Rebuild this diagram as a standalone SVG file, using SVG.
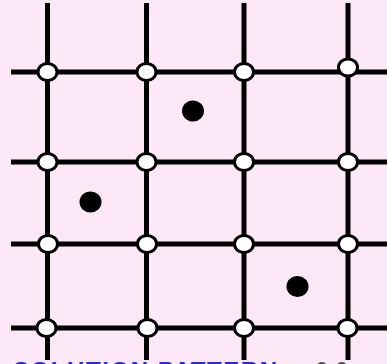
<svg xmlns="http://www.w3.org/2000/svg" width="387" height="364" viewBox="0 0 387 364">
<style>
.ln{stroke:#000;stroke-width:5;fill:none}
.nd{fill:#fff;stroke:#000;stroke-width:3}
.dt{fill:#000}
.cap{font-family:"Liberation Sans",Arial,sans-serif;font-weight:bold;font-size:24px}
</style>
<rect x="0" y="0" width="387" height="364" fill="#fde8f8"/>
<g id="connectors">
<line class="ln" x1="47.5" y1="3" x2="47.5" y2="360"/>
<line class="ln" x1="146.5" y1="3" x2="146.5" y2="360"/>
<line class="ln" x1="244" y1="3" x2="244" y2="360"/>
<line class="ln" x1="348" y1="3" x2="348" y2="360"/>
<line class="ln" x1="11" y1="72" x2="390" y2="72"/>
<line class="ln" x1="11" y1="162" x2="390" y2="162"/>
<line class="ln" x1="11" y1="244" x2="390" y2="244"/>
<line class="ln" x1="11" y1="328" x2="390" y2="328"/>
</g>
<g id="n11"><ellipse class="nd" cx="47.5" cy="72" rx="9.5" ry="8.5"/></g>
<g id="n12"><ellipse class="nd" cx="146.5" cy="72" rx="9.5" ry="8.5"/></g>
<g id="n13"><ellipse class="nd" cx="244" cy="72" rx="9.5" ry="8.5"/></g>
<g id="n14"><ellipse class="nd" cx="348" cy="67.5" rx="9.5" ry="8.5"/></g>
<g id="n21"><ellipse class="nd" cx="47.5" cy="162" rx="9.5" ry="8.5"/></g>
<g id="n22"><ellipse class="nd" cx="146.5" cy="162" rx="9.5" ry="8.5"/></g>
<g id="n23"><ellipse class="nd" cx="244" cy="162" rx="9.5" ry="8.5"/></g>
<g id="n24"><ellipse class="nd" cx="348" cy="162" rx="9.5" ry="8.5"/></g>
<g id="n31"><ellipse class="nd" cx="48" cy="244" rx="9.5" ry="8.5"/></g>
<g id="n32"><ellipse class="nd" cx="147" cy="244" rx="9.5" ry="8.5"/></g>
<g id="n33"><ellipse class="nd" cx="244" cy="244" rx="9.5" ry="8.5"/></g>
<g id="n34"><ellipse class="nd" cx="348" cy="244" rx="9.5" ry="8.5"/></g>
<g id="n41"><ellipse class="nd" cx="46.5" cy="328" rx="9.5" ry="8.5"/></g>
<g id="n42"><ellipse class="nd" cx="147.5" cy="328" rx="9.5" ry="8.5"/></g>
<g id="n43"><ellipse class="nd" cx="244" cy="328" rx="9.5" ry="8.5"/></g>
<g id="n44"><ellipse class="nd" cx="347.5" cy="328" rx="9.5" ry="8.5"/></g>
<g id="d1"><ellipse class="dt" cx="193" cy="111" rx="11" ry="10.5"/></g>
<g id="d2"><ellipse class="dt" cx="90.5" cy="202" rx="11" ry="10.5"/></g>
<g id="d3"><ellipse class="dt" cx="297.5" cy="286.5" rx="11" ry="10.5"/></g>
<g id="caption">
<text class="cap" x="13" y="379" fill="#2a2ae0" textLength="264" lengthAdjust="spacing">SOLUTION PATTERN</text>
<text class="cap" x="315" y="379" fill="#555">0 0</text>
</g>
</svg>
